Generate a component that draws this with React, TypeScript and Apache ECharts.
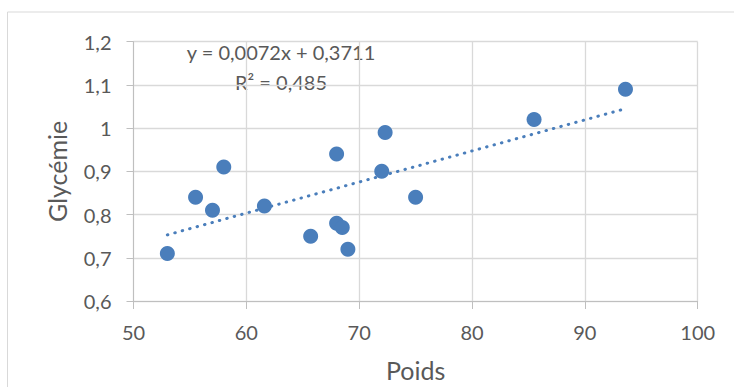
import React, { useEffect, useRef } from "react";
import * as echarts from "echarts";

const poids = [53, 55.5, 57, 58, 61.6, 65.7, 68, 68, 68.5, 69, 72, 72.3, 75, 85.5, 93.6];
const glycemie = [0.71, 0.84, 0.81, 0.91, 0.82, 0.75, 0.94, 0.78, 0.77, 0.72, 0.9, 0.99, 0.84, 1.02, 1.09];
const trendX = [53, 93.6];
const trendY = [0.753, 1.045];
const equationText = "y = 0,0072x + 0,3711";
const r2Text = "R² = 0,485";
const xTitle = "Poids";
const yTitle = "Glycémie";

const FONT = "Lato, 'Noto Sans', sans-serif";
const TEXT = "#595959";
const BLUE = "#4a7ebb";

export default function App() {
  const ref = useRef<HTMLDivElement>(null);
  useEffect(() => {
    if (!ref.current) return;
    const chart = echarts.init(ref.current, null, { renderer: "svg" });
    const fmt = (v: number) => String(+v.toFixed(2)).replace(".", ",");
    chart.setOption({
      animation: false,
      backgroundColor: "#ffffff",
      textStyle: { fontFamily: FONT },
      grid: { left: 133.5, right: 36.3, top: 41.7, bottom: 83.7, containLabel: false },
      xAxis: {
        type: "value",
        min: 50,
        max: 100,
        interval: 10,
        name: xTitle,
        nameLocation: "middle",
        nameGap: 56,
        nameTextStyle: { color: TEXT, fontSize: 25, fontFamily: FONT },
        axisLine: { show: true, lineStyle: { color: "#bfbfbf", width: 1 } },
        axisTick: { show: true, length: 8, lineStyle: { color: "#bfbfbf" } },
        axisLabel: { color: TEXT, fontSize: 20, fontFamily: FONT, margin: 21, formatter: (v: number) => fmt(v) },
        splitLine: { show: true, lineStyle: { color: "#d9d9d9", width: 1.3 } },
      },
      yAxis: {
        type: "value",
        min: 0.6,
        max: 1.2,
        interval: 0.1,
        name: yTitle,
        nameLocation: "middle",
        nameGap: 64,
        nameRotate: 90,
        nameTextStyle: { color: TEXT, fontSize: 25, fontFamily: FONT },
        axisLine: { show: true, lineStyle: { color: "#bfbfbf", width: 1 } },
        axisTick: { show: true, length: 7, lineStyle: { color: "#bfbfbf" } },
        axisLabel: { color: TEXT, fontSize: 20, fontFamily: FONT, margin: 22, formatter: (v: number) => fmt(v) },
        splitLine: { show: true, lineStyle: { color: "#d9d9d9", width: 1.3 } },
      },
      graphic: [
        {
          type: "rect",
          shape: { x: 7.5, y: 12, width: 900, height: 600 },
          style: { fill: "none", stroke: "#d9d9d9", lineWidth: 1 },
          z: -1,
        },
        {
          type: "text",
          x: 281,
          y: 52,
          style: { text: equationText, fill: TEXT, font: `20px ${FONT}`, align: "center", verticalAlign: "middle" },
        },
        {
          type: "text",
          x: 281,
          y: 82,
          style: { text: r2Text, fill: TEXT, font: `20px ${FONT}`, align: "center", verticalAlign: "middle" },
        },
      ],
      series: [
        {
          type: "line",
          data: trendX.map((x, i) => [x, trendY[i]]),
          showSymbol: false,
          symbol: "none",
          lineStyle: { color: BLUE, width: 3, type: [0.5, 7.2], cap: "round" },
          z: 2,
        },
        {
          type: "scatter",
          data: poids.map((x, i) => [x, glycemie[i]]),
          symbol: "circle",
          symbolSize: 15,
          itemStyle: { color: BLUE, opacity: 1 },
          z: 3,
        },
      ],
    });
    return () => chart.dispose();
  }, []);
  return <div ref={ref} style={{ position: "absolute", left: 0, top: 0, width: 734, height: 387 }} />;
}
